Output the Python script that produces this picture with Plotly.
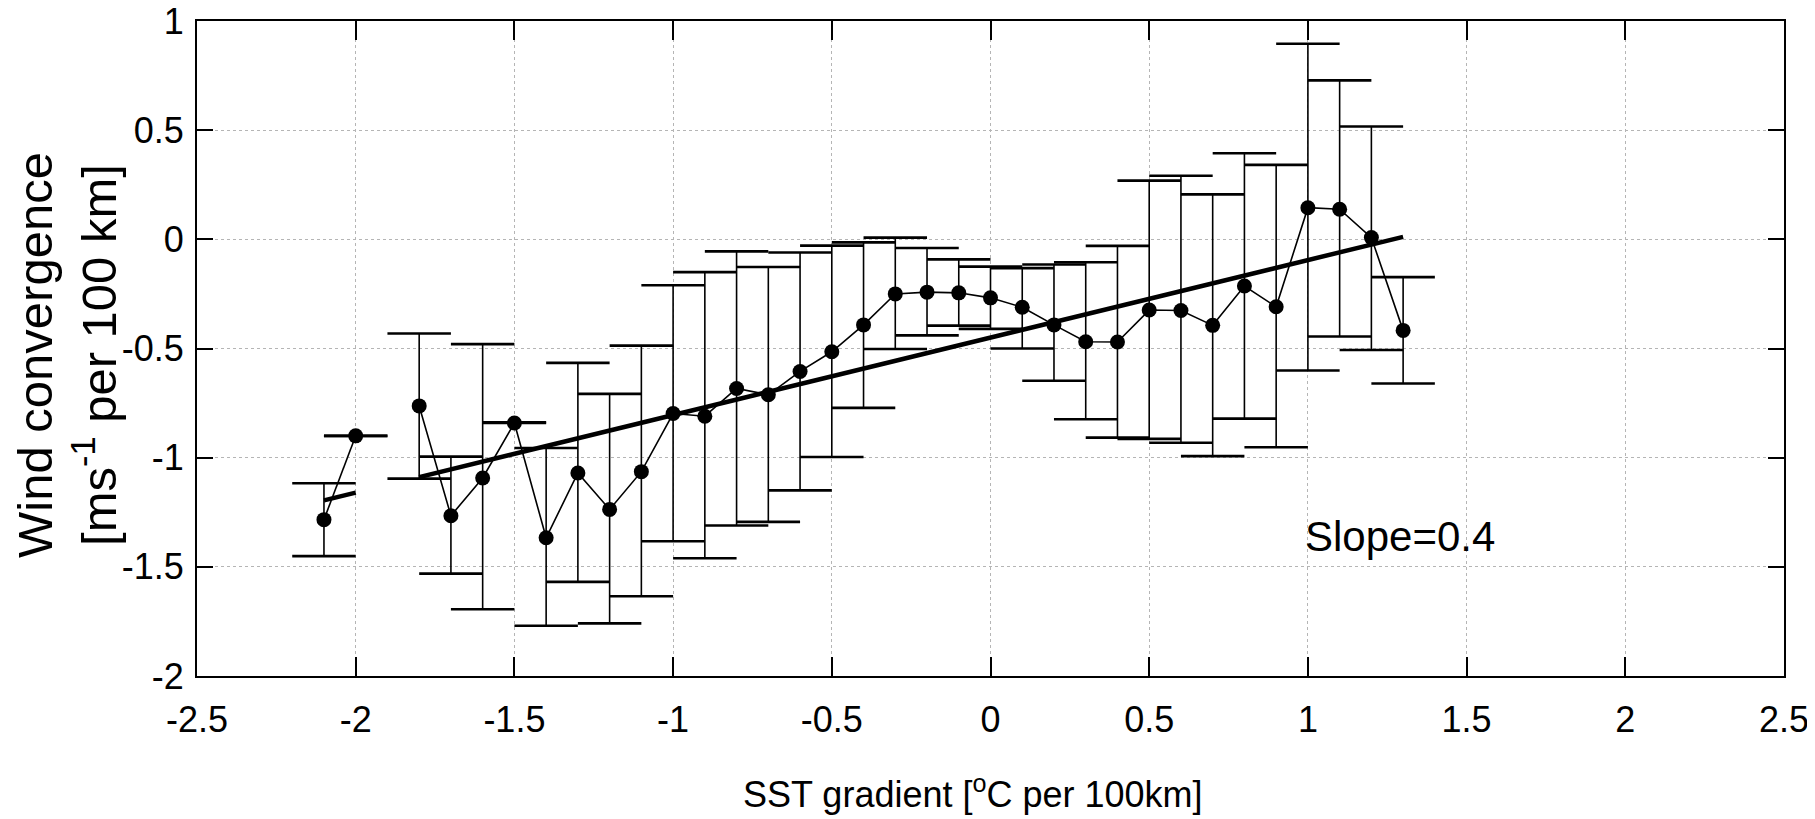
import plotly.graph_objects as go

# ---- data ----
sst = [-2.1, -2.0, -1.9, -1.8, -1.7, -1.6, -1.5, -1.4, -1.3, -1.2, -1.1, -1.0,
       -0.9, -0.8, -0.7, -0.6, -0.5, -0.4, -0.3, -0.2, -0.1, 0.0, 0.1, 0.2,
       0.3, 0.4, 0.5, 0.6, 0.7, 0.8, 0.9, 1.0, 1.1, 1.2, 1.3]
conv_mean = [-1.284, -0.900, None, -0.763, -1.266, -1.093, -0.841, -1.367, -1.070, -1.237, -1.064, -0.798,
             -0.810, -0.683, -0.712, -0.605, -0.515, -0.392, -0.250, -0.242, -0.245, -0.268, -0.311, -0.392,
             -0.469, -0.470, -0.324, -0.326, -0.394, -0.214, -0.309, 0.145, 0.138, 0.008, -0.417]
conv_upper = [-1.117, -0.900, None, -0.431, -0.995, -0.480, -0.838, -0.956, -0.566, -0.708, -0.487, -0.210,
              -0.150, -0.055, -0.127, -0.060, -0.029, -0.014, 0.008, -0.040, -0.092, -0.125, -0.132, -0.115,
              -0.105, -0.030, 0.269, 0.291, 0.206, 0.394, 0.341, 0.896, 0.728, 0.517, -0.173]
conv_lower = [-1.451, -0.900, None, -1.096, -1.531, -1.694, -0.841, -1.770, -1.569, -1.759, -1.635, -1.383,
              -1.461, -1.311, -1.294, -1.150, -0.997, -0.772, -0.502, -0.440, -0.395, -0.410, -0.500, -0.648,
              -0.824, -0.908, -0.914, -0.932, -0.993, -0.821, -0.952, -0.601, -0.445, -0.507, -0.660]
fit_slope = 0.355
fit_intercept = -0.45
slope_label = "Slope=0.4"

x_ticks = [-2.5, -2, -1.5, -1, -0.5, 0, 0.5, 1, 1.5, 2, 2.5]
x_ticktext = ["-2.5", "-2", "-1.5", "-1", "-0.5", "0", "0.5", "1", "1.5", "2", "2.5"]
y_ticks = [1, 0.5, 0, -0.5, -1, -1.5, -2]
y_ticktext = ["1", "0.5", "0", "-0.5", "-1", "-1.5", "-2"]

# ---- derived ----
err_plus = [None if m is None else u - m for m, u in zip(conv_mean, conv_upper)]
err_minus = [None if m is None else m - l for m, l in zip(conv_mean, conv_lower)]
fit_y = [None if m is None else fit_intercept + fit_slope * x for x, m in zip(sst, conv_mean)]

cap_half = 0.1
cap_x, cap_y = [], []
for x, u, l in zip(sst, conv_upper, conv_lower):
    if u is None:
        continue
    for v in (u, l):
        cap_x += [x - cap_half, x + cap_half, None]
        cap_y += [v, v, None]

FONT = "Liberation Sans, Arial, Helvetica, sans-serif"

fig = go.Figure()

# stems
fig.add_trace(go.Scatter(
    x=sst, y=conv_mean, mode="markers", marker=dict(size=1, color="rgba(0,0,0,0)"),
    error_y=dict(type="data", symmetric=False, array=err_plus, arrayminus=err_minus,
                 width=0, thickness=1.6, color="black"),
    showlegend=False, hoverinfo="skip"))
# caps
fig.add_trace(go.Scatter(x=cap_x, y=cap_y, mode="lines",
                         line=dict(color="black", width=2.6), showlegend=False, hoverinfo="skip"))
# fit line
fig.add_trace(go.Scatter(x=sst, y=fit_y, mode="lines",
                         line=dict(color="black", width=4.5), showlegend=False))
# mean line with markers
fig.add_trace(go.Scatter(x=sst, y=conv_mean, mode="lines+markers",
                         line=dict(color="black", width=1.6),
                         marker=dict(size=15, color="black", symbol="circle"),
                         showlegend=False))

# the page body has an 8px margin, so the figure is sized to fit inside it
fig.update_layout(
    width=1807, height=811,
    margin=dict(l=189, r=31, t=13, b=143),
    paper_bgcolor="white", plot_bgcolor="white",
    font=dict(family=FONT, size=36, color="black"),
    xaxis=dict(range=[-2.5, 2.5], tickvals=x_ticks, ticktext=x_ticktext,
               showline=True, linecolor="black", linewidth=2, mirror="ticks",
               ticks="inside", ticklen=19, tickwidth=1.5, tickcolor="black",
               showgrid=True, gridcolor="#b5b5b5", griddash="dot", gridwidth=1,
               zeroline=False, ticklabelstandoff=11, automargin=False,
               ticklabeloverflow="allow",
               tickfont=dict(family=FONT, size=36)),
    yaxis=dict(range=[-2, 1], tickvals=y_ticks, ticktext=y_ticktext,
               showline=True, linecolor="black", linewidth=2, mirror="ticks",
               ticks="inside", ticklen=16, tickwidth=1.5, tickcolor="black",
               showgrid=True, gridcolor="#b5b5b5", griddash="dot", gridwidth=1,
               zeroline=False, ticklabelstandoff=4, automargin=False,
               ticklabeloverflow="allow",
               tickfont=dict(family=FONT, size=36)),
    annotations=[
        dict(text="Wind convergence<br>[ms<sup>-1</sup> per 100 km]", textangle=-90,
             xref="paper", yref="paper", x=-0.082, y=0.49, xanchor="center", yanchor="middle",
             showarrow=False, font=dict(family=FONT, size=49, color="black")),
        dict(text="SST gradient [<sup>o</sup>C per 100km]",
             xref="paper", yref="paper", x=0.489, y=-0.177, xanchor="center", yanchor="middle",
             showarrow=False, font=dict(family=FONT, size=36, color="black")),
        dict(text=slope_label, xref="x", yref="y", x=1.29, y=-1.36,
             xanchor="center", yanchor="middle", showarrow=False,
             font=dict(family=FONT, size=42, color="black")),
    ],
)

fig.write_html("out.html")
